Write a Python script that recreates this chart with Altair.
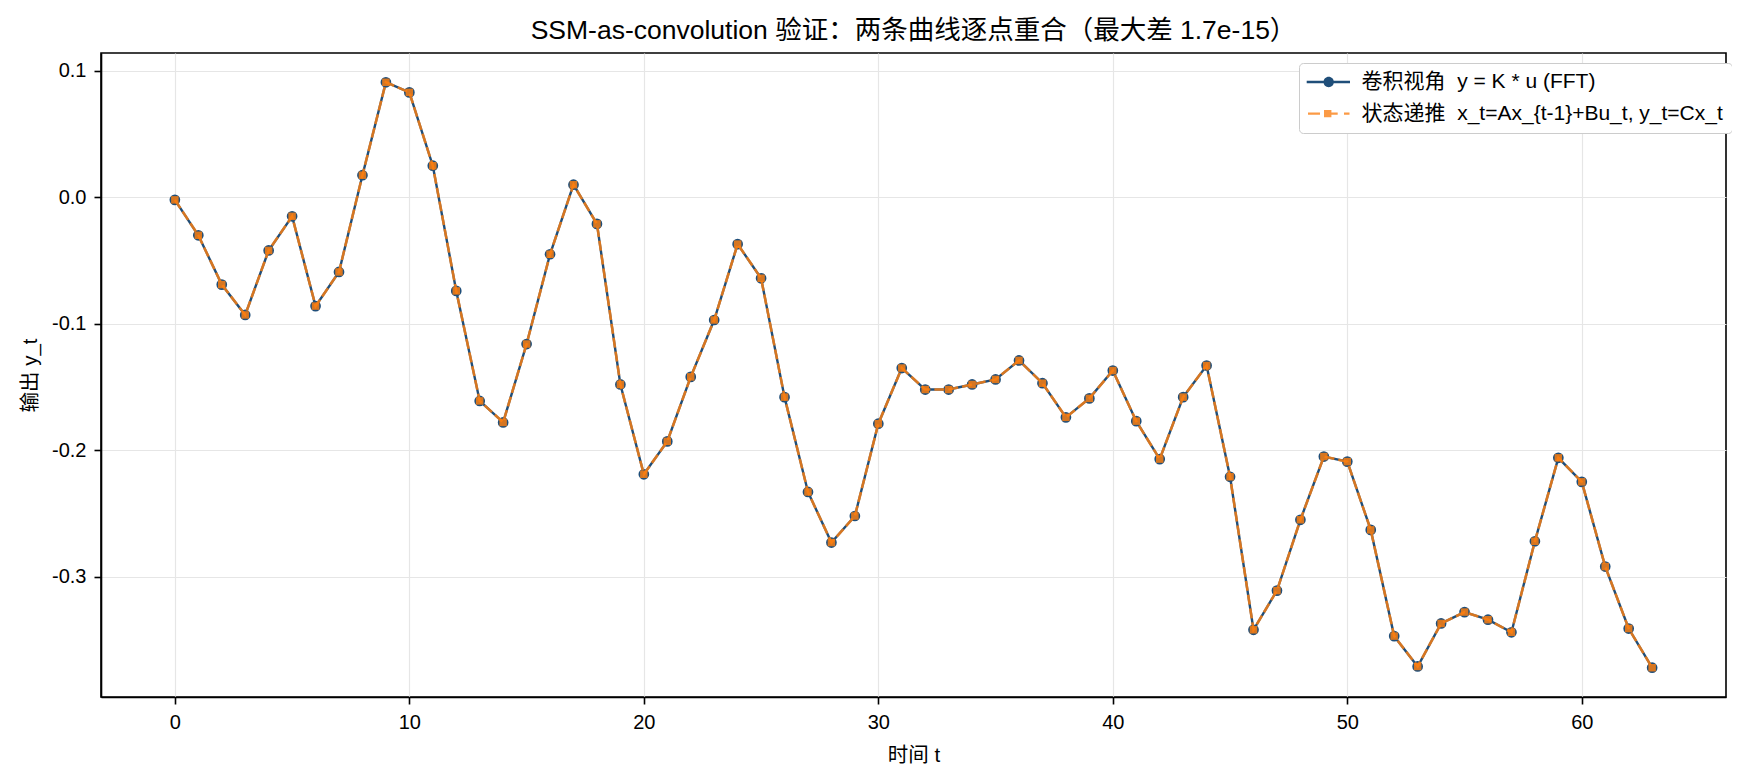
import altair as alt
import pandas as pd

# --- data ------------------------------------------------------------------
t = list(range(64))
y_conv = [
    -0.002, -0.030, -0.069, -0.093, -0.042, -0.015, -0.086, -0.059,
    0.0175, 0.091, 0.083, 0.025, -0.074, -0.161, -0.178, -0.116,
    -0.045, 0.010, -0.021, -0.148, -0.219, -0.193, -0.142, -0.097,
    -0.037, -0.064, -0.158, -0.233, -0.273, -0.252, -0.179, -0.135,
    -0.152, -0.152, -0.148, -0.144, -0.129, -0.147, -0.174, -0.159,
    -0.137, -0.177, -0.207, -0.158, -0.133, -0.221, -0.342, -0.311,
    -0.255, -0.205, -0.209, -0.263, -0.347, -0.371, -0.337, -0.328,
    -0.334, -0.344, -0.272, -0.206, -0.225, -0.292, -0.341, -0.372,
]
# recurrence output agrees with the convolution to 1.7e-15: same at plot scale
y_rec = list(y_conv)

x_ticks = [0, 10, 20, 30, 40, 50, 60]
y_ticks = [0.1, 0.0, -0.1, -0.2, -0.3]

# nbsp keeps the double gap (svg collapses plain spaces)
LABEL_CONV = "卷积视角\u00a0 y = K * u (FFT)"
LABEL_REC = "状态递推\u00a0 x_t=Ax_{t-1}+Bu_t, y_t=Cx_t"
TITLE = "SSM-as-convolution 验证：两条曲线逐点重合（最大差 1.7e-15）"

BLUE = "#1f4e79"
ORANGE = "#ff7f0e"       # drawn at 0.8 opacity, like the reference
ORANGE_KEY = "#fb9a45"   # the same at 0.8 over white, for the legend key
FONT = "Liberation Sans, Arial, 'Noto Sans CJK SC', sans-serif"

# legend keys: line + marker drawn as filled paths (units of 10px), all clockwise
KEY_CONV = ("M-1.13,-0.13H3.2V0.13H-1.13Z "
            "M0.55,0A0.52,0.52,0,1,1,1.59,0A0.52,0.52,0,1,1,0.55,0Z")
KEY_REC = ("M-1,-0.12H0.2V0.12H-1Z M0.6,-0.37H1.34V0.37H0.6Z "
           "M1.34,-0.12H1.97V0.12H1.34Z M2.6,-0.12H3.15V0.12H2.6Z")

LEG_X, LEG_Y = 1198, 10   # legend box corner, plot-area pixels

# matplotlib-style 5% margins around the data
x_pad = 0.05 * (max(t) - min(t))
y_lo, y_hi = min(y_conv), max(y_conv)
y_pad = 0.05 * (y_hi - y_lo)

df_conv = pd.DataFrame({"t": t, "y": y_conv})
df_rec = pd.DataFrame({"t": t, "y": y_rec})
df_key = pd.DataFrame({"series": [LABEL_CONV, LABEL_REC]})

x = alt.X("t:Q", title="时间 t",
          scale=alt.Scale(domain=[min(t) - x_pad, max(t) + x_pad], nice=False, zero=False),
          axis=alt.Axis(values=x_ticks, labelPadding=8.5, titlePadding=12.5))
y = alt.Y("y:Q", title="输出 y_t",
          scale=alt.Scale(domain=[y_lo - y_pad, y_hi + y_pad], nice=False, zero=False),
          axis=alt.Axis(values=y_ticks, labelPadding=8, titlePadding=11,
                        labelExpr="replace(format(datum.value, '.1f'), '\u2212', '-')"))

line_conv = alt.Chart(df_conv).mark_line(color=BLUE, strokeWidth=2.4).encode(x=x, y=y)
pts_conv = alt.Chart(df_conv).mark_point(
    shape="circle", filled=True, color=BLUE, size=115, opacity=1).encode(x=x, y=y)
line_rec = alt.Chart(df_rec).mark_line(
    color=ORANGE, strokeWidth=2.6, strokeDash=[10, 4], opacity=0.82).encode(x=x, y=y)
pts_rec = alt.Chart(df_rec).mark_point(
    shape="square", filled=True, color=ORANGE, size=56, opacity=0.82).encode(x=x, y=y)

legend = alt.Legend(
    title=None, orient="none", legendX=LEG_X, legendY=LEG_Y,
    symbolSize=400, symbolStrokeWidth=0, labelOffset=33, labelLimit=800,
    padding=8.5, rowPadding=9.6, strokeColor="#cccccc", fillColor="white",
    cornerRadius=4, labelFontSize=21, labelFont=FONT, labelColor="black")
# legend-only layer: its two glyphs sit under the (opaque) legend box
key = alt.Chart(df_key).mark_point(filled=True, size=400, opacity=1).encode(
    x=alt.value(LEG_X + 200), y=alt.value(LEG_Y + 34),
    color=alt.Color("series:N", legend=legend,
                    scale=alt.Scale(domain=[LABEL_CONV, LABEL_REC], range=[BLUE, ORANGE_KEY])),
    shape=alt.Shape("series:N", legend=legend,
                    scale=alt.Scale(domain=[LABEL_CONV, LABEL_REC], range=[KEY_CONV, KEY_REC])),
)

chart = (
    alt.layer(line_conv, pts_conv, line_rec, pts_rec, key)
    .properties(
        width=1625, height=644,
        title=alt.TitleParams(TITLE, fontSize=26.5, font=FONT, fontWeight="normal",
                              color="black", anchor="middle", offset=9, frame="group"),
        autosize=alt.AutoSizeParams(type="none"),
        padding={"left": 93, "top": 45, "right": 6, "bottom": 77},
    )
    .configure_view(stroke="black", strokeWidth=1.6)
    .configure_axis(
        domainColor="black", domainWidth=1.6, tickColor="black", tickWidth=1.6, tickSize=7,
        gridColor="#e6e6e6", gridWidth=1.2, labelFont=FONT, labelFontSize=20,
        labelColor="black", titleFont=FONT, titleFontSize=20.5, titleFontWeight="normal",
        titleColor="black", labelFlush=False)
)

chart.save("out.html", embed_options={"renderer": "svg", "actions": False})
